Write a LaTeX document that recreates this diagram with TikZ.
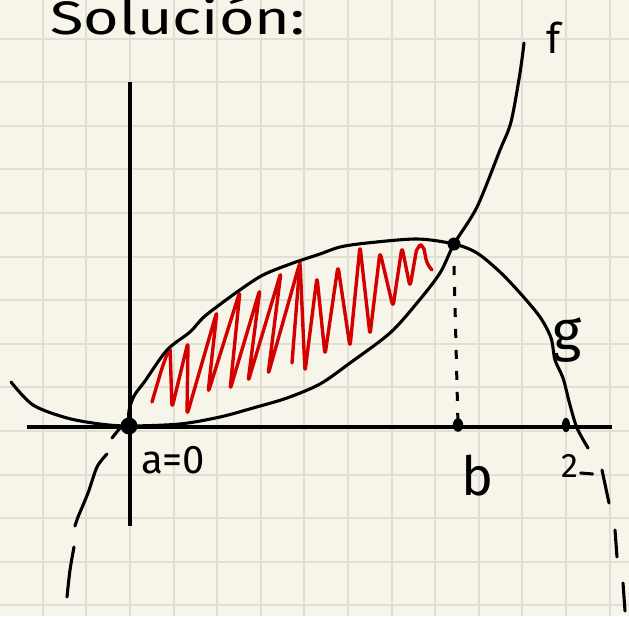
\documentclass[tikz,border=0pt]{standalone}
\usepackage{fontspec}
\setmainfont{Fira Sans}
\definecolor{paper}{RGB}{247,245,234}
\definecolor{gridc}{RGB}{224,223,212}
\definecolor{hatchred}{RGB}{212,0,0}
\begin{document}
\begin{tikzpicture}[x=1pt,y=-1pt,
  gridline/.style={gridc,line width=2pt},
  axisline/.style={black,line width=3.5pt},
  curve/.style={black,line width=3.1pt,line cap=round,line join=round},
  dashcurve/.style={black,line width=3.1pt,line cap=round},
  hatching/.style={hatchred,line width=3.4pt,line cap=round,line join=round,rounded corners=5pt},
  lab/.style={inner sep=0pt,text=black}]
\fill[paper] (0,0) rectangle (629,616);
\useasboundingbox (0,0) rectangle (629,616);
\begin{scope}
\clip (0,0) rectangle (629,616);
\foreach \i in {-3,...,11} \draw[gridline] ({130+43.6*\i},0) -- ({130+43.6*\i},616);
\foreach \j in {0,...,13} \draw[gridline] (0,{38.5+43.6*\j}) -- (629,{38.5+43.6*\j});

% key points
\coordinate (O) at (129,426);
\coordinate (P) at (454,244);
\coordinate (B) at (458,425);
\coordinate (T) at (566,425);
\coordinate (xl) at (27,427);
\coordinate (xr) at (612,427);
\coordinate (yt) at (130,82);
\coordinate (yb) at (130,526);

% red hatching
\draw[hatching] (152,402) -- (162,368) -- (170,346) -- (172,408) -- (188,342) -- (187,415)
  -- (217,311) -- (208,393) -- (240,291) -- (230,390) -- (260,289) -- (248,382)
  -- (281,272) -- (268,375) -- (300,262) -- (305,372) -- (317,277) -- (325,355)
  -- (338,266) -- (350,347) -- (360,246) -- (370,335) -- (380,252) -- (393,307)
  -- (402,247) -- (410,287) -- (417,247) -- (423,244) -- (427,264) -- (432,270);
\draw[hatching] (300,262) -- (292,363);

% axes
\draw[axisline] (xl) -- (xr);
\draw[axisline] (yt) -- (yb);

% f
\draw[curve] plot[smooth,tension=0.5] coordinates {(11,382) (33,405) (67,418) (100,424) (O)
  (180,424) (220,417) (253,408) (287,398) (320,384) (350,363) (390,333) (417,303) (440,273) (P)
  (477,207) (500,150) (511,122) (520,73) (524,43)};

% g
\draw[curve] plot[smooth,tension=0.5] coordinates {(O) (129,411) (134,396) (145,381) (167,350)
  (190,332) (205,316) (237,292) (263,275) (293,263) (320,254) (340,247) (367,243) (417,239) (P)
  (477,253) (500,272) (520,293) (540,317) (551,338) (555,360) (563,378) (570,405) (577,428) (588,448)};

% dashed continuations of g
\draw[dashcurve] (120,428) -- (112,438);
\draw[dashcurve] plot[smooth] coordinates {(107,454) (97,467) (88,493) (78,517) (75,526)};
\draw[dashcurve] plot[smooth] coordinates {(74,547) (70,570) (67,597)};
\draw[dashcurve] (602,470) -- (609,503);
\draw[dashcurve] (615,530) -- (617,557);
\draw[dashcurve] (623,583) -- (625,611);

% vertical dashed line at b
\draw[black,line width=3pt,dash pattern=on 9pt off 12pt] (P) ++(0,22) -- (B);

% dots
\fill[black] (O) circle (8.5);
\fill[black] (P) circle (6.5);
\fill[black] (B) ellipse (5.2 and 6.8);
\fill[black] (T) ellipse (4 and 7.2);

% labels
\node[lab,anchor=base west] (title) at (50,34) {\scalebox{1.3}[1]{\fontsize{47}{50}\selectfont Solución:}};
\node[lab] (flab) at (554,38) {\fontsize{42}{44}\selectfont f};
\node[lab] (glab) at (567,340) {\fontsize{56}{58}\selectfont g};
\node[lab,anchor=base west] (alab) at (141,473) {\fontsize{40}{42}\selectfont a=0};
\node[lab,anchor=base] (blab) at (478,495) {\fontsize{54}{56}\selectfont b};
\node[lab,anchor=base] (twolab) at (570,477) {\fontsize{34}{36}\selectfont 2};
\draw[curve] (twolab.base east) ++(2,-4) -- ++(12,1);
\end{scope}
\end{tikzpicture}
\end{document}
